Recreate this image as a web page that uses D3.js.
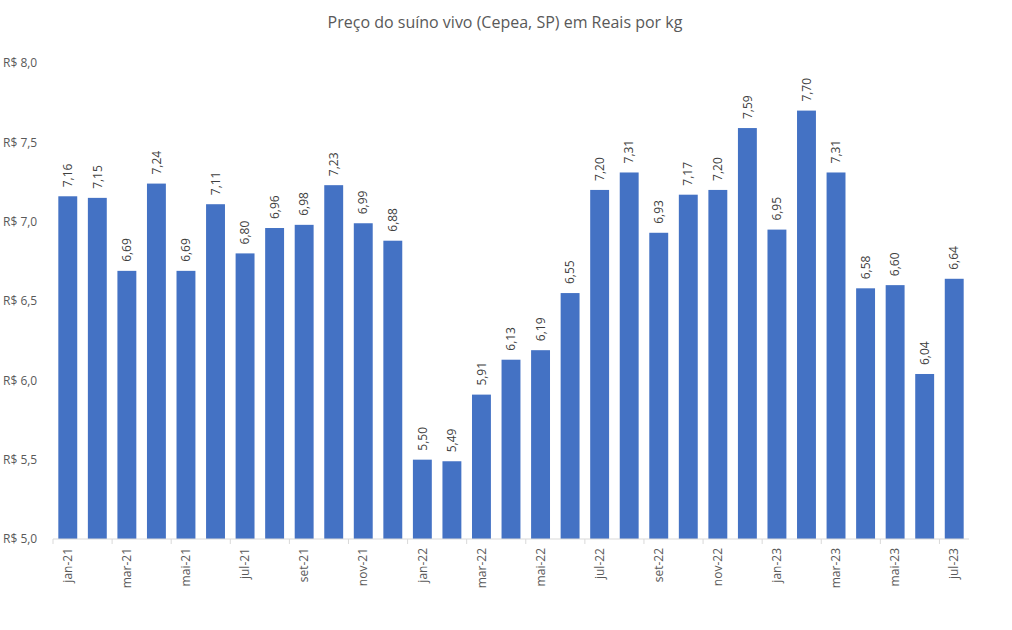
<!DOCTYPE html>
<html>
<head>
<meta charset="utf-8">
<script src="https://cdn.jsdelivr.net/npm/d3@7"></script>
<style>
  body { margin: 0; background: #fff; }
  text { font-family: "Open Sans", "Noto Sans", sans-serif; }
</style>
</head>
<body>
<div id="chart"></div>
<script>
(function () {

  // Data
  const months = ["jan-21","fev-21","mar-21","abr-21","mai-21","jun-21","jul-21","ago-21","set-21","out-21","nov-21","dez-21",
    "jan-22","fev-22","mar-22","abr-22","mai-22","jun-22","jul-22","ago-22","set-22","out-22","nov-22","dez-22",
    "jan-23","fev-23","mar-23","abr-23","mai-23","jun-23","jul-23"]
  const prices = [7.16,7.15,6.69,7.24,6.69,7.11,6.80,6.96,6.98,7.23,6.99,6.88,
    5.50,5.49,5.91,6.13,6.19,6.55,7.20,7.31,6.93,7.17,7.20,7.59,
    6.95,7.70,7.31,6.58,6.60,6.04,6.64]
  const yTicks = [5.0,5.5,6.0,6.5,7.0,7.5,8.0]
  const title = "Preço do suíno vivo (Cepea, SP) em Reais por kg"

  const W = 1012, H = 630
  const margin = { top: 63, right: 43, bottom: 91, left: 53 }
  const width = W - margin.left - margin.right
  const height = H - margin.top - margin.bottom

  const svg = d3.select("#chart").append("svg")
      .attr("width", W)
      .attr("height", H)

  svg.append("text")
    .attr("x", 505)
    .attr("y", 28)
    .attr("text-anchor", "middle")
    .attr("font-size", 16)
    .attr("fill", "#595959")
    .text(title)

  const g = svg.append("g")
    .attr("transform", "translate(" + margin.left + "," + margin.top + ")")

  const x = d3.scaleBand()
    .domain(months)
    .range([0, width])
    .paddingInner(0.36)
    .paddingOuter(0.18)

  const y = d3.scaleLinear()
    .domain([5, 8])
    .range([height, 0])

  const fmt = v => d3.format(".2f")(v).replace(".", ",")
  const fmtY = v => "R$ " + d3.format(".1f")(v).replace(".", ",")

  // y labels (no axis line, no gridlines)
  g.selectAll(".ylab")
    .data(yTicks)
    .join("text")
    .attr("class", "ylab")
    .attr("x", -50)
    .attr("y", d => y(d))
    .attr("dy", "0.35em")
    .attr("font-size", 12)
    .attr("fill", "#595959")
    .text(fmtY)

  // bars
  g.selectAll("rect")
    .data(prices)
    .join("rect")
    .attr("x", (d, i) => x(months[i]))
    .attr("width", x.bandwidth())
    .attr("y", d => y(d))
    .attr("height", d => height - y(d))
    .attr("fill", "#4472C4")

  // value labels
  g.selectAll(".val")
    .data(prices)
    .join("text")
    .attr("class", "val")
    .attr("transform", (d, i) => "translate(" + (x(months[i]) + x.bandwidth() / 2) + "," + (y(d) - 9) + ") rotate(-90)")
    .attr("dy", "0.35em")
    .attr("font-size", 12)
    .attr("fill", "#404040")
    .text(fmt)

  // x axis line
  g.append("line")
    .attr("x1", 0).attr("x2", width)
    .attr("y1", height).attr("y2", height)
    .attr("stroke", "#d9d9d9")

  const step = x.step()
  const labelled = months.filter((m, i) => i % 2 === 0)

  g.selectAll(".xtick")
    .data(labelled)
    .join("line")
    .attr("class", "xtick")
    .attr("x1", d => x(d) - x.paddingInner() * step / 2)
    .attr("x2", d => x(d) - x.paddingInner() * step / 2)
    .attr("y1", height).attr("y2", height + 5)
    .attr("stroke", "#d9d9d9")

  g.selectAll(".xlab")
    .data(labelled)
    .join("text")
    .attr("class", "xlab")
    .attr("transform", d => "translate(" + (x(d) + x.bandwidth() / 2) + "," + (height + 9) + ") rotate(-90)")
    .attr("text-anchor", "end")
    .attr("dy", "0.35em")
    .attr("font-size", 12)
    .attr("fill", "#595959")
    .text(d => d)

})();
</script>
</body>
</html>
